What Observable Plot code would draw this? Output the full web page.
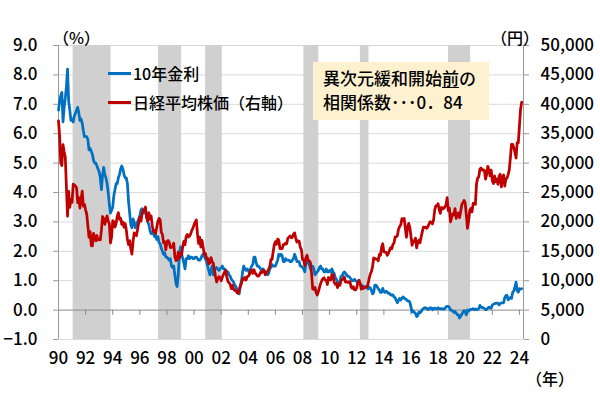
<!DOCTYPE html>
<html><head><meta charset="utf-8">
<script src="https://cdn.jsdelivr.net/npm/d3@7"></script>
<script src="https://cdn.jsdelivr.net/npm/@observablehq/plot@0.6"></script>
<style>
body{margin:0;background:#fff;font-family:"Noto Sans CJK JP",sans-serif;}
#wrap{position:relative;width:600px;height:410px;overflow:hidden;}
.lbl{position:absolute;font-size:16px;color:#000;white-space:nowrap;line-height:16px;font-weight:500;}
.sw{position:absolute;width:23px;height:3px;}
#note{position:absolute;left:313px;top:62px;width:166px;height:54px;padding:4px 0 0 10px;background:#FDF1D0;font-size:17px;line-height:24px;color:#000;white-space:nowrap;font-weight:500;}
#note .ul{display:inline-block;line-height:18px;border-bottom:1.5px solid #000;}
svg text{font-weight:500;}
</style></head>
<body><div id="wrap"></div>
<script>
// 10-year JGB yield (%), monthly from Jan 1990
const jgb10y = [
 6.8, 7.1, 7.3, 7.4, 6.4, 6.9, 7.2, 7.6, 8.2, 7.1, 6.8, 6.45,
 6.5, 6.4, 6.6, 6.7, 6.8, 6.9, 6.7, 6.45, 6.5, 6.35, 6.1, 5.9,
 5.9, 5.9, 5.8, 5.45, 5.5, 5.4, 5.3, 5.1, 5.0, 5.0, 4.9, 4.8,
 4.7, 4.5, 4.1, 4.6, 4.85, 4.6, 4.5, 4.3, 4.0, 3.6, 3.3, 3.4,
 3.5, 3.9, 4.1, 4.3, 4.3, 4.5, 4.6, 4.8, 4.9, 4.8, 4.6, 4.5,
 4.5, 4.3, 3.7, 3.3, 2.9, 2.8, 3.1, 3.0, 2.8, 2.9, 3.0, 3.1,
 3.2, 3.4, 3.45, 3.3, 3.4, 3.3, 3.2, 3.0, 2.9, 2.7, 2.6, 2.65,
 2.6, 2.5, 2.55, 2.4, 2.5, 2.3, 2.25, 2.1, 2.0, 1.9, 1.95, 1.8,
 1.8, 1.75, 1.7, 1.75, 1.5, 1.45, 1.5, 1.2, 0.9, 0.8, 1.2, 1.9,
 2.15, 1.9, 1.75, 1.6, 1.4, 1.75, 1.75, 1.85, 1.75, 1.8, 1.8, 1.75,
 1.75, 1.8, 1.8, 1.75, 1.7, 1.7, 1.75, 1.85, 1.9, 1.85, 1.75, 1.65,
 1.5, 1.35, 1.2, 1.35, 1.5, 1.2, 1.35, 1.4, 1.45, 1.4, 1.35, 1.4,
 1.45, 1.5, 1.4, 1.4, 1.35, 1.3, 1.3, 1.2, 1.15, 1.05, 1.0, 0.95,
 0.85, 0.8, 0.7, 0.62, 0.55, 0.85, 1.0, 1.3, 1.5, 1.4, 1.35, 1.4,
 1.35, 1.25, 1.4, 1.5, 1.55, 1.8, 1.8, 1.6, 1.5, 1.5, 1.45, 1.4,
 1.35, 1.4, 1.35, 1.3, 1.25, 1.2, 1.25, 1.4, 1.45, 1.55, 1.5, 1.5,
 1.5, 1.6, 1.7, 1.9, 1.85, 1.9, 1.85, 1.65, 1.65, 1.75, 1.7, 1.7,
 1.7, 1.65, 1.65, 1.7, 1.75, 1.9, 1.8, 1.65, 1.65, 1.65, 1.5, 1.5,
 1.45, 1.4, 1.3, 1.6, 1.75, 1.6, 1.55, 1.4, 1.5, 1.5, 1.4, 1.2,
 1.25, 1.3, 1.35, 1.45, 1.5, 1.4, 1.4, 1.3, 1.3, 1.4, 1.3, 1.3,
 1.35, 1.3, 1.4, 1.3, 1.25, 1.1, 1.05, 0.95, 0.95, 0.9, 1.15, 1.15,
 1.25, 1.3, 1.25, 1.2, 1.15, 1.15, 1.1, 1.05, 1.0, 1.0, 1.05, 1.0,
 0.97, 0.97, 1.0, 0.9, 0.85, 0.83, 0.75, 0.8, 0.78, 0.78, 0.72, 0.79,
 0.75, 0.67, 0.55, 0.6, 0.85, 0.85, 0.8, 0.73, 0.68, 0.6, 0.6, 0.74,
 0.63, 0.6, 0.64, 0.62, 0.57, 0.57, 0.52, 0.5, 0.52, 0.45, 0.42, 0.33,
 0.25, 0.33, 0.4, 0.34, 0.4, 0.45, 0.41, 0.38, 0.36, 0.31, 0.31, 0.27,
 0.1, -0.06, -0.03, -0.08, -0.11, -0.22, -0.19, -0.07, -0.09, -0.05, 0.02, 0.05,
 0.08, 0.06, 0.07, 0.02, 0.04, 0.08, 0.07, 0.01, 0.06, 0.07, 0.04, 0.05,
 0.08, 0.05, 0.04, 0.05, 0.04, 0.03, 0.05, 0.11, 0.13, 0.13, 0.09, 0.0,
 0.0, -0.03, -0.08, -0.05, -0.1, -0.16, -0.16, -0.27, -0.21, -0.14, -0.07, -0.02,
 -0.06, -0.16, 0.01, -0.04, 0.0, 0.03, 0.02, 0.05, 0.01, 0.04, 0.02, 0.02,
 0.05, 0.16, 0.09, 0.09, 0.08, 0.05, 0.02, 0.02, 0.07, 0.1, 0.07, 0.07,
 0.17, 0.2, 0.22, 0.23, 0.24, 0.23, 0.18, 0.23, 0.24, 0.25, 0.25, 0.42,
 0.49, 0.5, 0.35, 0.39, 0.43, 0.4, 0.6, 0.65, 0.77, 0.95, 0.67, 0.61,
 0.73, 0.71, 0.73
];
// Nikkei 225 (yen), monthly from Jan 1990
const nikkei = [
 37189, 34592, 29980, 29585, 33131, 31940, 31036, 25978, 20984, 25194, 22455, 23849,
 23293, 26409, 26292, 26111, 25790, 23291, 24121, 22336, 23916, 25222, 22687, 22984,
 22023, 21339, 19346, 17391, 18348, 15952, 15910, 18061, 17399, 16767, 17684, 16925,
 17023, 16953, 18591, 20919, 20552, 19590, 20380, 21027, 20106, 19703, 16408, 17417,
 20229, 19997, 19112, 19725, 20974, 21552, 20449, 20629, 19564, 19990, 19076, 19723,
 18650, 17054, 16140, 16807, 15437, 14517, 16678, 18117, 17913, 17655, 18744, 19868,
 20813, 20125, 21407, 22041, 21956, 22531, 20693, 20167, 21556, 20467, 21020, 19361,
 18330, 18557, 18003, 19151, 20069, 20605, 20331, 18229, 17888, 16459, 16636, 15258,
 16628, 16831, 16527, 15641, 15671, 15830, 16379, 14108, 13406, 13564, 14883, 13842,
 14499, 14368, 15837, 16701, 16112, 17530, 17862, 17437, 17605, 17942, 18558, 18934,
 19540, 19960, 20337, 17974, 16332, 17411, 15727, 16861, 15747, 14539, 14649, 13785,
 13843, 12883, 12999, 13934, 13262, 12969, 11861, 10713, 9775, 10366, 10697, 10543,
 9997, 10588, 11025, 11493, 11764, 10622, 9877, 9619, 9383, 8640, 9216, 8579,
 8340, 8363, 7973, 7831, 8425, 9083, 9563, 10344, 10219, 10560, 10101, 10677,
 10784, 11042, 11715, 11762, 11236, 11859, 11326, 11082, 10824, 10771, 11013, 11489,
 11388, 11741, 11669, 11009, 11277, 11584, 11900, 12414, 13574, 13607, 14872, 16111,
 16650, 16205, 17060, 16906, 15467, 15505, 15457, 16141, 16128, 16399, 16274, 17226,
 17383, 17604, 17288, 17400, 17876, 18138, 17249, 16569, 16786, 16738, 15681, 15308,
 13592, 13603, 12526, 13850, 14339, 13481, 13377, 13073, 11260, 8577, 8512, 8860,
 7994, 7568, 8110, 8828, 9523, 9958, 10357, 10493, 10133, 10035, 9346, 10546,
 10198, 10126, 11090, 11057, 9769, 9383, 9537, 8824, 9369, 9202, 9937, 10229,
 10238, 10624, 9755, 9850, 9694, 9816, 9833, 8955, 8700, 8988, 8435, 8455,
 8803, 9723, 10084, 9521, 8543, 9007, 8695, 8840, 8870, 8928, 9446, 10395,
 11139, 11559, 12398, 13861, 13775, 13677, 13668, 13389, 14456, 14328, 15662, 16291,
 14915, 14841, 14828, 14304, 14632, 15162, 15621, 15425, 16174, 16414, 17460, 17451,
 17674, 18798, 19207, 19520, 20563, 20236, 20585, 18890, 17388, 19083, 19747, 19034,
 17518, 16027, 16759, 16666, 17235, 15576, 16569, 16887, 16450, 17425, 18308, 19114,
 19041, 19119, 18909, 19197, 19651, 20033, 19925, 19646, 20356, 22012, 22725, 22765,
 23098, 22068, 21454, 22468, 22202, 22305, 22554, 22865, 24120, 21920, 22351, 20015,
 20773, 21385, 21206, 22259, 20601, 21276, 21522, 20704, 21756, 22927, 23294, 23657,
 23205, 21143, 18917, 20194, 21878, 22288, 21710, 23140, 23185, 22977, 26434, 27444,
 27663, 28966, 29179, 28813, 28860, 28792, 27284, 28090, 29453, 28893, 27822, 28792,
 27002, 26527, 27821, 26848, 27280, 26393, 27802, 28092, 25937, 27587, 27969, 26095,
 27327, 27446, 28041, 28856, 30888, 33189, 33172, 32619, 31858, 30859, 33487, 33464,
 36287, 39166, 40369
];
// Recession periods (decimal years)
const recessions = [
 [1991.08, 1993.88], [1997.38, 1999.08], [2000.85, 2002.08],
 [2008.1, 2009.2], [2012.27, 2012.9], [2018.77, 2020.4]
];
const startYear = 1990;
const leftTicks = [-1, 0, 1, 2, 3, 4, 5, 6, 7, 8, 9];
const yenTicks = [0, 5000, 10000, 15000, 20000, 25000, 30000, 35000, 40000, 45000, 50000];
const xTickYears = [1990,1992,1994,1996,1998,2000,2002,2004,2006,2008,2010,2012,2014,2016,2018,2020,2022,2024];
const yenPerPct = 5000; // right axis: 0円 at -1%, 50,000円 at 9%

const rateData = jgb10y.map((v, i) => ({t: startYear + i / 12, v}));
const nikkeiData = nikkei.map((v, i) => ({t: startYear + i / 12, v: v / yenPerPct - 1}));
const bands = recessions.map(([a, b]) => ({a, b}));
const xMax = 2024.3;

const fontSize = 17;
const chart = Plot.plot({
  width: 600, height: 410,
  marginLeft: 58, marginRight: 77, marginTop: 45, marginBottom: 71,
  style: {fontFamily: '"Noto Sans CJK JP", sans-serif', fontSize: "17px", color: "#000", background: "transparent"},
  x: {domain: [startYear, xMax], axis: null},
  y: {domain: [-1, 9], axis: null},
  marks: [
    Plot.ruleY(leftTicks.filter(d => d !== 0), {stroke: "#d9d9d9", strokeWidth: 1}),
    Plot.rect(bands, {x1: "a", x2: "b", fill: "#d0d0d0"}),
    Plot.ruleY([0], {stroke: "#8c8c8c", strokeWidth: 1}),
    Plot.ruleX(xTickYears.slice(1), {x: d => d, y1: 0, y2: -0.18, stroke: "#8c8c8c"}),
    Plot.ruleX([startYear], {stroke: "#9a9a9a", strokeWidth: 1}),
    Plot.ruleX([xMax], {stroke: "#9a9a9a", strokeWidth: 1}),
    Plot.axisY({anchor: "left", label: null, ticks: leftTicks, tickFormat: d3.format(".1f"), tickSize: 5, tickPadding: 16, stroke: "#9a9a9a", fill: "#000", fontSize}),
    Plot.axisY({anchor: "right", label: null, ticks: yenTicks.map(v => v / yenPerPct - 1), tickFormat: d => d3.format(",")(Math.round((d + 1) * yenPerPct)), tickSize: 5, tickPadding: 12, stroke: "#9a9a9a", fill: "#000", fontSize}),
    Plot.axisX({anchor: "bottom", label: null, ticks: xTickYears, tickFormat: d => String(d % 100).padStart(2, "0"), tickSize: 0, tickPadding: 12, fill: "#000", fontSize}),
    Plot.line(rateData, {x: "t", y: "v", stroke: "#0070C0", strokeWidth: 2.75, strokeLinejoin: "round"}),
    Plot.line(nikkeiData, {x: "t", y: "v", stroke: "#C00000", strokeWidth: 2.75, strokeLinejoin: "round"})
  ]
});
const wrap = document.getElementById("wrap");
wrap.appendChild(chart);
wrap.insertAdjacentHTML("beforeend", `
  <div class="lbl" style="left:53px;top:29px">（%）</div>
  <div class="lbl" style="left:491px;top:29px">（円）</div>
  <div class="lbl" style="left:526px;top:370px">（年）</div>
  <div class="sw" style="left:108px;top:72px;background:#0070C0"></div>
  <div class="lbl" style="left:133px;top:65px">10年金利</div>
  <div class="sw" style="left:108px;top:101px;background:#C00000"></div>
  <div class="lbl" style="left:133px;top:94px">日経平均株価（右軸）</div>
  <div id="note">異次元緩和開始<span class="ul">前</span>の<br>相関係数･･･0．84</div>
`);
const svg = wrap.querySelector("svg");
svg.style.position = "absolute"; svg.style.left = "0"; svg.style.top = "0";
</script>
</body></html>
